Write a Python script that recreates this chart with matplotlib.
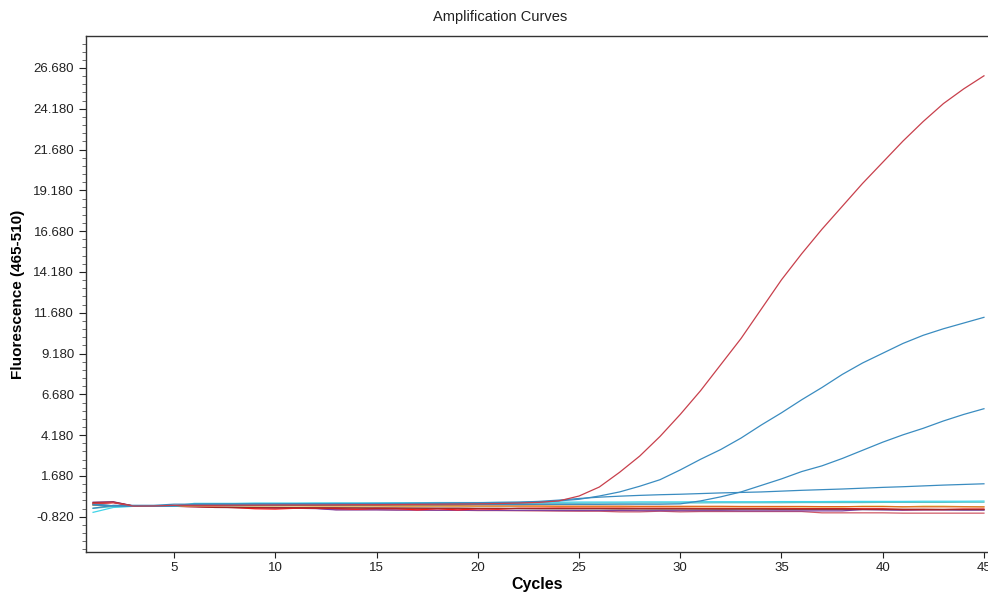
import matplotlib

matplotlib.use("Agg")
import matplotlib.pyplot as plt
from matplotlib.ticker import FixedLocator, FormatStrFormatter

plt.rcParams["font.family"] = ["Liberation Sans", "DejaVu Sans"]

cycles = list(range(1, 46))

# amplification curves (fluorescence 465-510)
red_amp = [0.0, 0.05, -0.17, -0.16, -0.12, -0.12, -0.12, -0.11, -0.11, -0.1,
           -0.1, -0.1, -0.09, -0.08, -0.08, -0.07, -0.06, -0.05, -0.04, -0.03,
           -0.01, 0.02, 0.06, 0.15, 0.45, 1.0, 1.9, 2.9, 4.1, 5.45,
           6.9, 8.5, 10.1, 11.9, 13.7, 15.3, 16.8, 18.2, 19.6, 20.9,
           22.2, 23.4, 24.5, 25.4, 26.2]
blue_high = [-0.3, -0.12, -0.12, -0.12, -0.05, -0.05, -0.05, -0.05, -0.04, -0.04,
             -0.04, -0.03, -0.03, -0.03, -0.02, -0.02, -0.01, -0.01, 0.0, 0.0,
             0.02, 0.04, 0.08, 0.15, 0.25, 0.45, 0.7, 1.05, 1.45, 2.05,
             2.7, 3.3, 4.0, 4.8, 5.55, 6.35, 7.1, 7.9, 8.6, 9.2,
             9.8, 10.3, 10.7, 11.05, 11.4]
blue_mid = [-0.1, -0.15, -0.17, -0.17, -0.16, -0.1, -0.1, -0.1, -0.1, -0.1,
            -0.09, -0.09, -0.09, -0.09, -0.08, -0.08, -0.08, -0.08, -0.07, -0.07,
            -0.07, -0.07, -0.06, -0.06, -0.06, -0.06, -0.05, -0.05, -0.05, -0.03,
            0.15, 0.4, 0.7, 1.1, 1.5, 1.95, 2.3, 2.75, 3.25, 3.75,
            4.2, 4.6, 5.05, 5.45, 5.8]
blue_low = [-0.05, -0.15, -0.17, -0.17, -0.15, -0.05, -0.04, -0.04, -0.03, -0.03,
            -0.02, -0.02, -0.01, -0.01, 0.0, 0.0, 0.01, 0.02, 0.03, 0.04,
            0.06, 0.08, 0.12, 0.2, 0.3, 0.38, 0.44, 0.49, 0.53, 0.56,
            0.6, 0.64, 0.67, 0.7, 0.75, 0.8, 0.84, 0.88, 0.93, 0.98,
            1.02, 1.07, 1.12, 1.16, 1.2]

# flat (negative) samples
cyan = [-0.55, -0.25, -0.18, -0.18, -0.16, 0.0, 0.0, 0.0, 0.02, 0.02,
        0.02, 0.03, 0.03, 0.03, 0.03, 0.04, 0.04, 0.05, 0.05, 0.05,
        0.06, 0.06, 0.07, 0.07, 0.08, 0.08, 0.08, 0.09, 0.09, 0.09,
        0.1, 0.1, 0.1, 0.1, 0.11, 0.11, 0.11, 0.12, 0.12, 0.12,
        0.12, 0.13, 0.13, 0.13, 0.14]
teal = [-0.3, -0.2, -0.18, -0.18, -0.17, -0.05, -0.05, -0.04, -0.04, -0.04,
        -0.03, -0.03, -0.03, -0.02, -0.02, -0.02, -0.01, -0.01, -0.01, 0.0,
        0.0, 0.0, 0.01, 0.01, 0.01, 0.02, 0.02, 0.02, 0.03, 0.03,
        0.03, 0.04, 0.04, 0.04, 0.04, 0.05, 0.05, 0.05, 0.05, 0.06,
        0.06, 0.06, 0.06, 0.07, 0.07]
orange = [-0.1, -0.18, -0.18, -0.18, -0.17, -0.12, -0.12, -0.13, -0.13, -0.13,
          -0.13, -0.14, -0.14, -0.14, -0.14, -0.15, -0.15, -0.15, -0.15, -0.16,
          -0.16, -0.16, -0.16, -0.17, -0.17, -0.17, -0.17, -0.18, -0.18, -0.18,
          -0.18, -0.18, -0.19, -0.19, -0.19, -0.19, -0.2, -0.2, -0.2, -0.2,
          -0.21, -0.21, -0.21, -0.21, -0.22]
dark_red = [0.05, 0.08, -0.16, -0.17, -0.17, -0.18, -0.25, -0.26, -0.26, -0.27,
            -0.27, -0.28, -0.28, -0.29, -0.29, -0.29, -0.3, -0.3, -0.3, -0.31,
            -0.31, -0.31, -0.32, -0.32, -0.32, -0.32, -0.33, -0.33, -0.33, -0.33,
            -0.34, -0.34, -0.34, -0.34, -0.35, -0.35, -0.35, -0.35, -0.36, -0.36,
            -0.36, -0.36, -0.37, -0.37, -0.37]
bright_red = [0.0, 0.05, -0.17, -0.17, -0.18, -0.2, -0.22, -0.26, -0.33, -0.35,
              -0.3, -0.3, -0.31, -0.36, -0.31, -0.32, -0.4, -0.33, -0.4, -0.34,
              -0.36, -0.3, -0.29, -0.28, -0.28, -0.28, -0.28, -0.29, -0.29, -0.29,
              -0.3, -0.3, -0.3, -0.3, -0.3, -0.31, -0.31, -0.31, -0.33, -0.33,
              -0.38, -0.38, -0.38, -0.35, -0.35]
purple = [0.07, 0.1, -0.16, -0.17, -0.18, -0.2, -0.22, -0.25, -0.27, -0.28,
          -0.3, -0.32, -0.4, -0.4, -0.4, -0.41, -0.41, -0.42, -0.42, -0.42,
          -0.43, -0.43, -0.43, -0.44, -0.44, -0.44, -0.44, -0.45, -0.45, -0.45,
          -0.45, -0.45, -0.46, -0.46, -0.46, -0.46, -0.46, -0.46, -0.38, -0.4,
          -0.42, -0.4, -0.4, -0.41, -0.41]
gray = [-0.05, -0.15, -0.17, -0.17, -0.17, -0.2, -0.21, -0.22, -0.23, -0.24,
        -0.25, -0.26, -0.27, -0.27, -0.28, -0.29, -0.29, -0.3, -0.3, -0.31,
        -0.31, -0.32, -0.32, -0.33, -0.33, -0.33, -0.34, -0.34, -0.35, -0.35,
        -0.35, -0.36, -0.36, -0.36, -0.37, -0.37, -0.37, -0.38, -0.38, -0.38,
        -0.39, -0.39, -0.39, -0.4, -0.4]
yellow = [-0.12, -0.17, -0.17, -0.17, -0.16, -0.15, -0.15, -0.15, -0.16, -0.16,
          -0.16, -0.17, -0.17, -0.17, -0.17, -0.18, -0.18, -0.18, -0.18, -0.19,
          -0.19, -0.19, -0.19, -0.19, -0.2, -0.2, -0.2, -0.2, -0.2, -0.21,
          -0.21, -0.21, -0.21, -0.21, -0.21, -0.22, -0.22, -0.22, -0.16, -0.16,
          -0.22, -0.16, -0.16, -0.2, -0.2]
pink = [-0.05, 0.05, -0.17, -0.17, -0.18, -0.2, -0.22, -0.24, -0.26, -0.27,
        -0.28, -0.3, -0.38, -0.38, -0.38, -0.4, -0.4, -0.42, -0.42, -0.44,
        -0.44, -0.45, -0.46, -0.47, -0.48, -0.48, -0.52, -0.52, -0.48, -0.52,
        -0.5, -0.5, -0.5, -0.5, -0.5, -0.5, -0.58, -0.58, -0.58, -0.58,
        -0.6, -0.6, -0.6, -0.6, -0.6]

baselines = [
    (pink, "#d05a66"), (gray, "#707070"), (purple, "#8040a0"),
    (bright_red, "#ff1a1a"), (dark_red, "#a02828"), (yellow, "#e6dc80"),
    (orange, "#e06414"), (teal, "#5cc4c4"), (cyan, "#40d4e8"),
]
amp_curves = [
    (blue_low, "#3a8cc0"), (blue_mid, "#3a8cc0"),
    (blue_high, "#3a8cc0"), (red_amp, "#c8404c"),
]

y_ticks = [-0.82 + 2.5 * k for k in range(12)]

fig = plt.figure(figsize=(9.88, 5.96), dpi=100)
ax = fig.add_axes([86 / 988, 1 - 552 / 596, (988 - 86) / 988, (552 - 36) / 596])

for vals, col in baselines + amp_curves:
    ax.plot(cycles, vals, color=col, lw=0.9)

ax.set_xlim(0.65, 45.2)
ax.set_ylim(-2.98, 28.64)
ax.xaxis.set_major_locator(FixedLocator([5, 10, 15, 20, 25, 30, 35, 40, 45]))
ax.yaxis.set_major_locator(FixedLocator(y_ticks))
ax.yaxis.set_minor_locator(FixedLocator([-2.82 + 0.5 * k for k in range(63)]))
ax.yaxis.set_major_formatter(FormatStrFormatter("%.3f"))
ax.tick_params(axis="both", labelsize=9.5, colors="#222222", width=0.8)
ax.tick_params(axis="y", which="major", length=5)
ax.tick_params(axis="y", which="minor", length=3, width=0.6, color="#555555")
ax.tick_params(axis="x", which="major", length=4)
for side in ("left", "bottom", "top"):
    ax.spines[side].set_color("#333333")
    ax.spines[side].set_linewidth(1.0)
ax.spines["right"].set_visible(False)

ax.set_xlabel("Cycles", fontsize=11.5, fontweight="bold", labelpad=2)
ax.set_ylabel("Fluorescence (465-510)", fontsize=11, fontweight="bold")
ax.yaxis.set_label_coords(-61 / 902, 0.5)
fig.text(500 / 988, 1 - 17 / 596, "Amplification Curves", ha="center", va="center",
         fontsize=10.5, color="#222222")

fig.savefig("out.png", dpi=100)
